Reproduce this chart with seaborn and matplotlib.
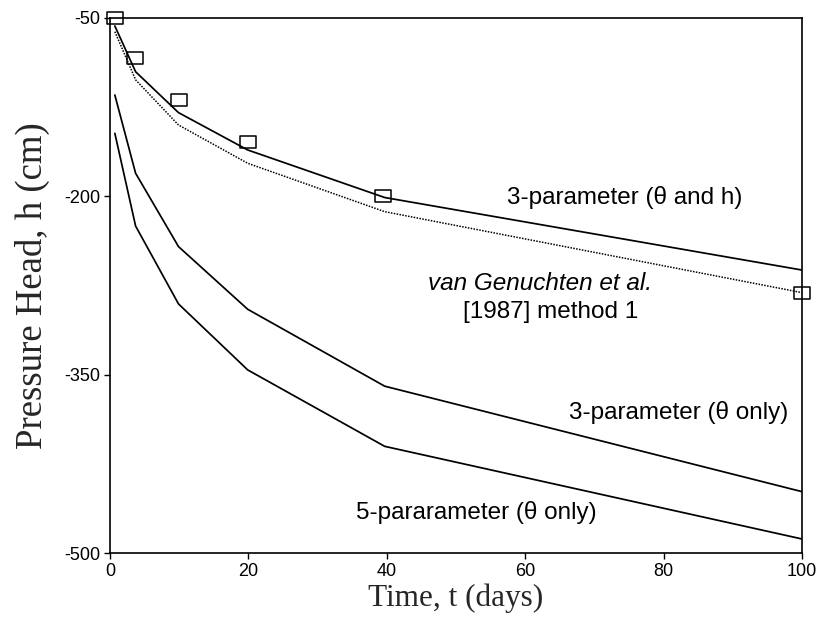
import matplotlib
matplotlib.use("Agg")
import matplotlib.pyplot as plt
import seaborn as sns
import pandas as pd
from matplotlib.path import Path

# ---- data ----
t_model = [0.7, 3.7, 9.9, 19.9, 39.7, 100]
h_3p_theta_h = [-56.7, -95.2, -129.6, -161.0, -201.0, -262.0]
h_vangenuchten = [-61.5, -102.0, -140.0, -172.2, -212.9, -281.0]
h_3p_theta = [-114.8, -180.6, -242.3, -295.0, -359.7, -448.4]
h_5p_theta = [-147.0, -225.0, -290.5, -346.0, -410.3, -488.2]

t_obs = [0.7, 3.6, 9.9, 19.9, 39.5, 100]
h_obs = [-50.0, -84.0, -119.0, -154.0, -200.0, -281.0]

x_ticks = [0, 20, 40, 60, 80, 100]
y_ticks = [-500, -350, -200, -50]

sns.set_style("ticks")
plt.rcParams["font.family"] = ["Liberation Sans", "DejaVu Sans"]
plt.rcParams["axes.unicode_minus"] = False

fig = plt.figure(figsize=(8.19, 6.17), dpi=100)
ax = fig.add_axes([110 / 819, 1 - 553 / 617, (802 - 110) / 819, (553 - 18) / 617])

lw = 1.25
sns.lineplot(x=t_model, y=h_3p_theta_h, color="black", lw=lw, sort=False, estimator=None, ax=ax)
sns.lineplot(x=t_model, y=h_vangenuchten, color="black", lw=1.1, sort=False, estimator=None,
             ax=ax, linestyle=(0, (1.0, 0.9)))
sns.lineplot(x=t_model, y=h_3p_theta, color="black", lw=lw, sort=False, estimator=None, ax=ax)
sns.lineplot(x=t_model, y=h_5p_theta, color="black", lw=lw, sort=False, estimator=None, ax=ax)

rect = Path([(-1, -0.8), (1, -0.8), (1, 0.8), (-1, 0.8), (-1, -0.8)],
            [Path.MOVETO, Path.LINETO, Path.LINETO, Path.LINETO, Path.CLOSEPOLY])
sns.lineplot(x=t_obs, y=h_obs, marker=rect, linestyle="none", markersize=11.5,
             markerfacecolor="none", markeredgecolor="black", markeredgewidth=1.1,
             color="black", sort=False, estimator=None, ax=ax, clip_on=False)

ax.set_xlim(0, 100)
ax.set_ylim(-500, -50)
ax.set_xticks(x_ticks)
ax.set_yticks(y_ticks)
ax.set_xticklabels([str(v) for v in x_ticks])
ax.set_yticklabels([str(v) for v in y_ticks])
ax.tick_params(direction="out", length=4.5, width=1.0, labelsize=13, pad=2.5, colors="black")

for s in ax.spines.values():
    s.set_visible(True)
    s.set_linewidth(1.2)
    s.set_color("black")

ax.set_xlabel("Time, t (days)", fontfamily="Liberation Serif", fontsize=22.5, labelpad=3)
ax.set_ylabel("Pressure Head, h (cm)", fontfamily="Liberation Serif", fontsize=26.5, labelpad=10)

tk = dict(fontsize=17.5, color="black")
ax.text(57.3, -201.4, "3-parameter (θ and h)", ha="left", va="center", **tk)
ax.text(62.1, -272.9, "van Genuchten et al.", ha="center", va="center", style="italic", **tk)
ax.text(63.7, -297.0, "[1987] method 1", ha="center", va="center", **tk)
ax.text(98.0, -382.2, "3-parameter (θ only)", ha="right", va="center", **tk)
ax.text(70.3, -466.3, "5-pararameter (θ only)", ha="right", va="center", **tk)

fig.savefig("out.png", dpi=100)
